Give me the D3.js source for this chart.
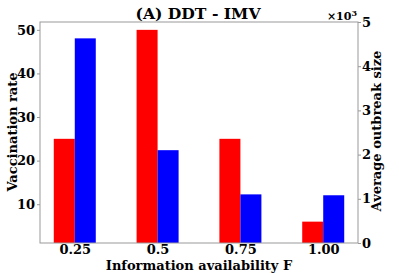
<!DOCTYPE html>
<html>
<head>
<meta charset="utf-8">
<script src="https://cdn.jsdelivr.net/npm/d3@7"></script>
<style>
  body { margin: 0; background: #fff; }
  text { font-family: "DejaVu Serif", serif; font-weight: bold; }
</style>
</head>
<body>
<div id="chart"></div>
<script>
let categories = ["0.25", "0.5", "0.75", "1.00"];
let vaccinationRate = [25, 50, 25, 6];
let outbreakSize = [4.63, 2.1, 1.1, 1.08];   // x10^3
let leftTicks = [10, 20, 30, 40, 50];
let rightTicks = [0, 1, 2, 3, 4, 5];

var width = 399, height = 273;
var margin = { top: 22, right: 41, bottom: 30, left: 40 };

var svg = d3.select("#chart")
    .append("svg")
    .attr("width", width)
    .attr("height", height);

var x = d3.scalePoint()
    .domain(categories)
    .range([margin.left, width - margin.right])
    .padding(0.42);

var yLeft = d3.scaleLinear()
    .domain([1.1, 51.8])
    .range([height - margin.bottom, margin.top]);

var yRight = d3.scaleLinear()
    .domain([0, 5])
    .range([height - margin.bottom, margin.top]);

var barW = 21;
var bottom = height - margin.bottom;

// red bars (left axis)
svg.append("g")
    .selectAll("rect")
    .data(categories)
    .enter()
    .append("rect")
    .attr("x", d => x(d) - barW)
    .attr("y", (d, i) => yLeft(vaccinationRate[i]))
    .attr("width", barW)
    .attr("height", (d, i) => bottom - yLeft(vaccinationRate[i]))
    .attr("fill", "#ff0000");

// blue bars (right axis)
svg.append("g")
    .selectAll("rect")
    .data(categories)
    .enter()
    .append("rect")
    .attr("x", d => x(d))
    .attr("y", (d, i) => yRight(outbreakSize[i]))
    .attr("width", barW)
    .attr("height", (d, i) => bottom - yRight(outbreakSize[i]))
    .attr("fill", "#0000ff");

// frame
svg.append("rect")
    .attr("x", margin.left)
    .attr("y", margin.top)
    .attr("width", width - margin.left - margin.right)
    .attr("height", height - margin.top - margin.bottom)
    .attr("fill", "none")
    .attr("stroke", "#999")
    .attr("stroke-width", 1);

// axes
var axisLeft = svg.append("g")
    .attr("transform", "translate(" + margin.left + ",0)")
    .call(d3.axisLeft(yLeft).tickValues(leftTicks).tickSize(3).tickPadding(2));
var axisRight = svg.append("g")
    .attr("transform", "translate(" + (width - margin.right) + ",0)")
    .call(d3.axisRight(yRight).tickValues(rightTicks).tickFormat(d3.format("d")).tickSize(3).tickPadding(1));
var axisBottom = svg.append("g")
    .attr("transform", "translate(0," + bottom + ")")
    .call(d3.axisBottom(x).tickSize(0).tickPadding(2));

[axisLeft, axisRight, axisBottom].forEach(a => {
    a.select(".domain").remove();
    a.selectAll("line").attr("stroke", "#999");
    a.selectAll("text")
        .style("font-family", "DejaVu Serif")
        .style("font-weight", "bold")
        .style("font-size", "13px")
        .attr("fill", "#000");
});

// titles
svg.append("text")
    .attr("x", 198)
    .attr("y", 19)
    .attr("text-anchor", "middle")
    .attr("textLength", 125)
    .attr("lengthAdjust", "spacingAndGlyphs")
    .style("font-size", "14px")
    .text("(A) DDT - IMV");

svg.append("text")
    .attr("x", 357)
    .attr("y", 20)
    .attr("text-anchor", "end")
    .style("font-size", "11px")
    .html("×10<tspan dy='-4' font-size='8px'>3</tspan>");

svg.append("text")
    .attr("x", 199)
    .attr("y", 270)
    .attr("text-anchor", "middle")
    .style("font-size", "13px")
    .text("Information availability F");

svg.append("text")
    .attr("transform", "translate(17,132) rotate(-90)")
    .attr("text-anchor", "middle")
    .style("font-size", "13px")
    .text("Vaccination rate");

svg.append("text")
    .attr("transform", "translate(381,131) rotate(-90)")
    .attr("text-anchor", "middle")
    .style("font-size", "13px")
    .text("Average outbreak size");
</script>
</body>
</html>
